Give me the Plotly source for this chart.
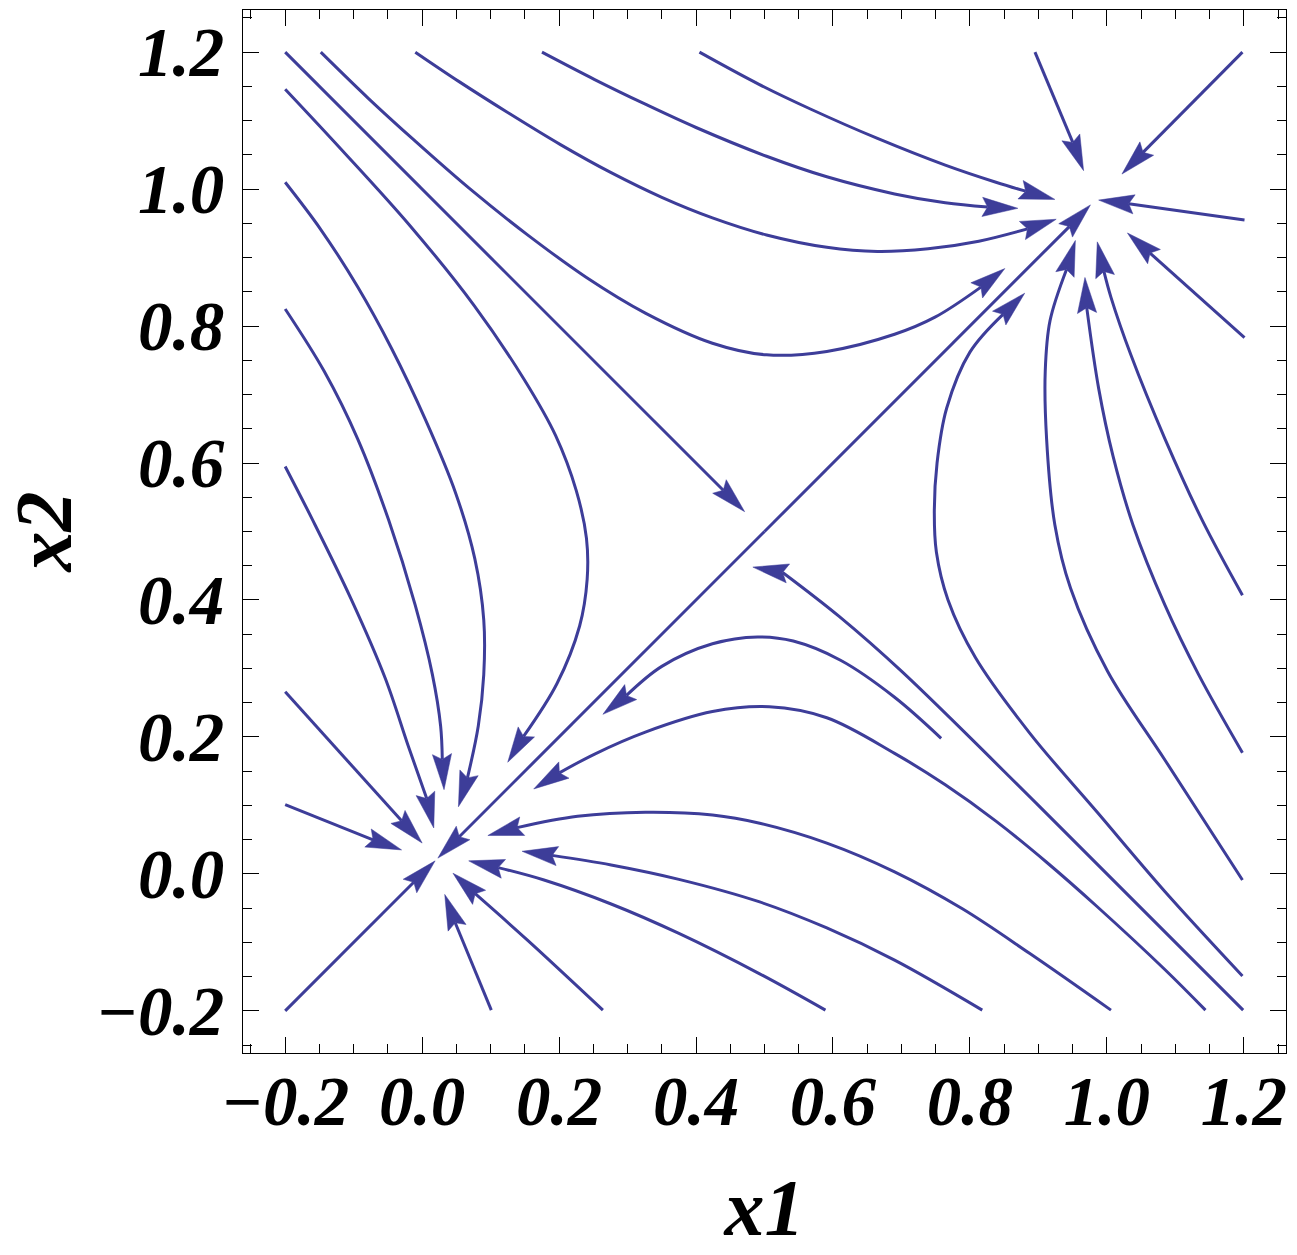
import numpy as np
import plotly.graph_objects as go

# The point before the tip sits at the back of the arrow head.
sep_upper = [(-0.200, 1.200), (0.434, 0.566), (0.471, 0.529)]
sep_lower = [(1.199, -0.199), (0.900, 0.100), (0.700, 0.296), (0.609, 0.376),
             (0.533, 0.439), (0.483, 0.448)]
diag_up = [(0.500, 0.500), (0.940, 0.940), (0.976, 0.977)]
diag_down = [(0.500, 0.500), (0.058, 0.058), (0.023, 0.023)]
diag_corner = [(-0.200, -0.200), (-0.018, -0.018), (0.019, 0.019)]

top_a = [(-0.148, 1.200), (-0.079, 1.133), (-0.010, 1.070), (0.069, 1.001), (0.153, 0.934),
         (0.240, 0.871), (0.326, 0.819), (0.424, 0.775), (0.503, 0.758), (0.591, 0.763),
         (0.690, 0.788), (0.749, 0.813), (0.811, 0.853), (0.851, 0.884)]
top_b = [(-0.010, 1.200), (0.054, 1.157), (0.128, 1.110), (0.202, 1.065), (0.276, 1.024),
         (0.350, 0.988), (0.424, 0.958), (0.503, 0.933), (0.591, 0.915), (0.665, 0.909),
         (0.739, 0.913), (0.813, 0.924), (0.878, 0.940), (0.926, 0.956)]
top_c = [(0.175, 1.200), (0.252, 1.160), (0.326, 1.124), (0.400, 1.090), (0.503, 1.048),
         (0.591, 1.018), (0.690, 0.993), (0.764, 0.980), (0.819, 0.974), (0.870, 0.972)]
top_d = [(0.405, 1.200), (0.492, 1.153), (0.567, 1.117), (0.665, 1.074), (0.764, 1.035),
         (0.838, 1.010), (0.885, 0.996), (0.924, 0.985)]
top_e = [(0.895, 1.200), (0.948, 1.074), (0.966, 1.027)]
top_f = [(1.198, 1.200), (1.058, 1.059), (1.022, 1.022)]
right_g = [(1.201, 0.955), (1.038, 0.978), (0.988, 0.984)]
right_h = [(1.201, 0.783), (1.066, 0.904), (1.030, 0.936)]

right_1 = [(1.198, -0.149), (1.085, -0.026), (0.986, 0.090), (0.887, 0.206), (0.808, 0.316),
           (0.768, 0.400), (0.751, 0.470), (0.748, 0.530), (0.752, 0.600), (0.766, 0.680),
           (0.800, 0.762), (0.843, 0.812), (0.880, 0.848)]
right_2 = [(1.198, -0.009), (1.085, 0.166), (1.001, 0.296), (0.947, 0.417), (0.924, 0.510),
           (0.912, 0.635), (0.910, 0.734), (0.917, 0.808), (0.939, 0.876), (0.954, 0.925)]
right_3 = [(1.198, 0.177), (1.134, 0.291), (1.085, 0.392), (1.038, 0.510), (1.009, 0.610),
           (0.988, 0.709), (0.971, 0.820), (0.968, 0.871)]
right_4 = [(1.198, 0.407), (1.139, 0.517), (1.085, 0.635), (1.035, 0.758), (1.006, 0.842),
           (0.997, 0.874), (0.986, 0.923)]

left_1 = [(-0.200, 1.146), (-0.118, 1.058), (-0.018, 0.947), (0.076, 0.830), (0.149, 0.722),
          (0.195, 0.640), (0.225, 0.560), (0.240, 0.490), (0.241, 0.430), (0.230, 0.362),
          (0.197, 0.278), (0.152, 0.207), (0.125, 0.163)]
left_2 = [(-0.200, 1.010), (-0.148, 0.941), (-0.094, 0.857), (-0.045, 0.768), (0.005, 0.663),
          (0.049, 0.556), (0.077, 0.460), (0.090, 0.371), (0.090, 0.291), (0.082, 0.216),
          (0.068, 0.146), (0.053, 0.098)]
left_3 = [(-0.200, 0.825), (-0.143, 0.734), (-0.094, 0.635), (-0.049, 0.517), (-0.010, 0.392),
          (0.015, 0.291), (0.027, 0.216), (0.029, 0.175), (0.032, 0.123)]
left_4 = [(-0.200, 0.595), (-0.160, 0.517), (-0.104, 0.402), (-0.054, 0.286), (-0.020, 0.186),
          (0.005, 0.117), (0.017, 0.067)]
left_5 = [(-0.200, 0.266), (-0.036, 0.084), (0.000, 0.045)]
left_6 = [(-0.200, 0.101), (-0.078, 0.052), (-0.030, 0.035)]

mid_arc = [(0.758, 0.198), (0.690, 0.258), (0.611, 0.312), (0.542, 0.340), (0.490, 0.346),
           (0.424, 0.336), (0.350, 0.303), (0.304, 0.265), (0.264, 0.233)]
bottom_1 = [(1.144, -0.199), (1.085, -0.140), (0.986, -0.048), (0.912, 0.017), (0.838, 0.077),
            (0.764, 0.130), (0.690, 0.176), (0.591, 0.228), (0.507, 0.244), (0.424, 0.237),
            (0.326, 0.207), (0.252, 0.175), (0.206, 0.151), (0.163, 0.124)]
bottom_2 = [(1.006, -0.199), (0.887, -0.116), (0.789, -0.051), (0.690, 0.003), (0.591, 0.045),
            (0.493, 0.074), (0.424, 0.086), (0.326, 0.090), (0.227, 0.084), (0.144, 0.069),
            (0.096, 0.056)]
bottom_3 = [(0.818, -0.199), (0.690, -0.126), (0.591, -0.079), (0.493, -0.041), (0.375, -0.008),
            (0.276, 0.013), (0.197, 0.026), (0.146, 0.033)]
bottom_4 = [(0.589, -0.199), (0.493, -0.146), (0.375, -0.087), (0.276, -0.044), (0.178, -0.009),
            (0.116, 0.008), (0.068, 0.019)]
bottom_5 = [(0.264, -0.199), (0.153, -0.096), (0.084, -0.035), (0.045, 0.001)]
bottom_6 = [(0.101, -0.199), (0.050, -0.076), (0.033, -0.030)]

STREAMS = [
    sep_upper, sep_lower, diag_up, diag_down, diag_corner,
    top_a, top_b, top_c, top_d, top_e, top_f, right_g, right_h,
    right_1, right_2, right_3, right_4,
    left_1, left_2, left_3, left_4, left_5, left_6,
    mid_arc, bottom_1, bottom_2, bottom_3, bottom_4, bottom_5, bottom_6,
]

tick_vals = [-0.2, 0.0, 0.2, 0.4, 0.6, 0.8, 1.0, 1.2]

STREAM_COLOR = "#3d3d99"
HEAD_LEN = 0.052
HEAD_HALF_W = 0.0140
NOTCH = 0.85
AX_RANGE = [-0.2616, 1.2616]


def _arrow_head(pts):
    tip = np.array(pts[-1], dtype=float)
    d = tip - np.array(pts[-2], dtype=float)
    d /= np.hypot(*d)
    n = np.array([-d[1], d[0]])
    base = tip - d * HEAD_LEN
    notch = tip - d * HEAD_LEN * NOTCH
    poly = [tip, base + n * HEAD_HALF_W, notch, base - n * HEAD_HALF_W, tip]
    return poly, notch


fig = go.Figure()

head_x, head_y = [], []
for pts in STREAMS:
    poly, notch = _arrow_head(pts)
    # the point at the back of the head only sets the arrow direction
    body = pts[:-2] if len(pts) > 2 else pts[:1]
    xs = [p[0] for p in body] + [notch[0]]
    ys = [p[1] for p in body] + [notch[1]]
    fig.add_trace(go.Scatter(
        x=xs, y=ys, mode="lines",
        line=dict(color=STREAM_COLOR, width=3, shape="spline", smoothing=1),
        hoverinfo="skip",
    ))
    head_x.extend([p[0] for p in poly] + [None])
    head_y.extend([p[1] for p in poly] + [None])

fig.add_trace(go.Scatter(
    x=head_x, y=head_y, mode="lines", fill="toself",
    fillcolor=STREAM_COLOR, line=dict(color=STREAM_COLOR, width=0.5),
    hoverinfo="skip",
))

label_font = dict(family="Liberation Serif", size=69, color="black",
                  weight="bold", style="italic")
title_font = dict(family="Liberation Serif", size=80, color="black",
                  weight="bold", style="italic")

axis_common = dict(
    range=AX_RANGE,
    automargin=False,
    tickmode="array",
    tickvals=tick_vals,
    tickformat=".1f",
    ticks="inside",
    ticklen=16,
    tickwidth=1,
    tickcolor="black",
    minor=dict(dtick=0.05, tick0=0, ticks="inside", ticklen=9,
               tickwidth=1, tickcolor="black"),
    showline=True,
    linecolor="black",
    linewidth=1,
    mirror="ticks",
    showgrid=False,
    zeroline=False,
    tickfont=label_font,
)

fig.update_layout(
    width=1297,
    height=1255,
    autosize=False,
    showlegend=False,
    paper_bgcolor="white",
    plot_bgcolor="white",
    margin=dict(l=243, r=11, t=10, b=202),
    xaxis=dict(axis_common, ticklabelstandoff=-12,
               title=dict(text="x1", font=title_font, standoff=40)),
    yaxis=dict(axis_common, ticklabelstandoff=4,
               title=dict(text="x2", font=title_font, standoff=40)),
)

fig.write_html("out.html", config={"displayModeBar": False},
               post_script="document.body.style.margin='0';")
